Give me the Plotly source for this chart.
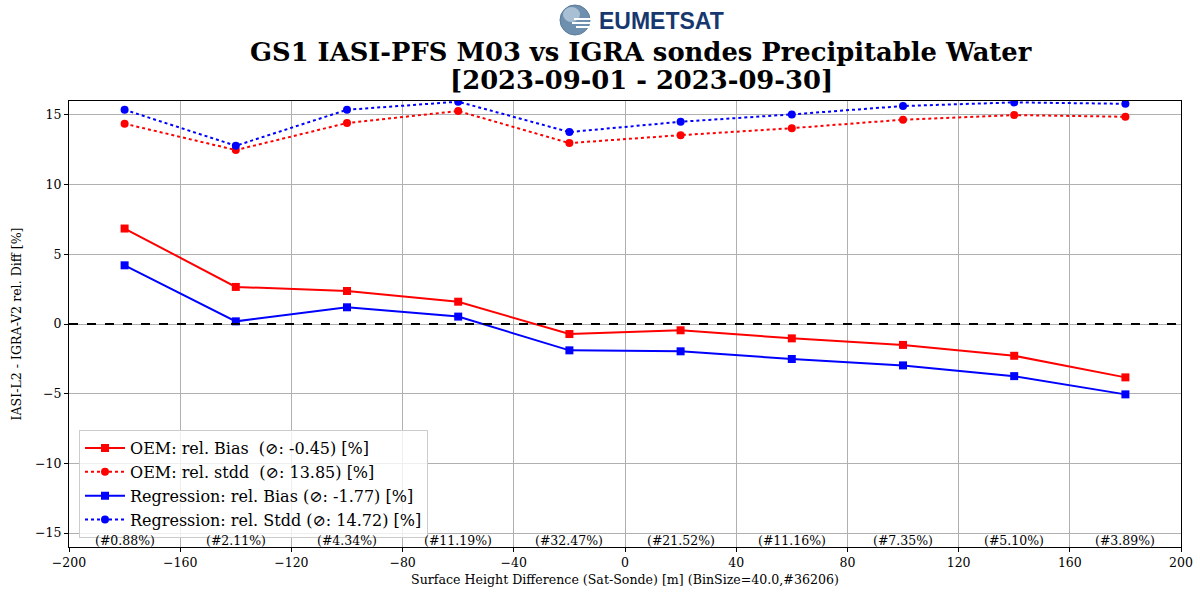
import plotly.graph_objects as go

# Bin centres of the surface height difference [m]
bin_centers = [-180, -140, -100, -60, -20, 20, 60, 100, 140, 180]

# Relative differences [%]
oem_bias = [6.85, 2.66, 2.37, 1.60, -0.72, -0.45, -1.03, -1.50, -2.28, -3.83]
oem_stdd = [14.37, 12.48, 14.42, 15.28, 12.98, 13.55, 14.05, 14.66, 14.99, 14.87]
reg_bias = [4.21, 0.19, 1.20, 0.53, -1.89, -1.96, -2.51, -2.97, -3.74, -5.05]
reg_stdd = [15.37, 12.79, 15.37, 15.95, 13.77, 14.51, 15.04, 15.64, 15.90, 15.80]

# Share of collocations per bin
bin_share = ["0.88", "2.11", "4.34", "11.19", "32.47", "21.52", "11.16", "7.35", "5.10", "3.89"]

x_ticks = [-200, -160, -120, -80, -40, 0, 40, 80, 120, 160, 200]
y_ticks = [-15, -10, -5, 0, 5, 10, 15]

SERIF = "DejaVu Serif"

fig = go.Figure()

fig.add_trace(go.Scatter(
    x=bin_centers, y=oem_bias, mode="lines+markers",
    name="OEM: rel. Bias  (\u2298: -0.45) [%]",
    line=dict(color="#ff0000", width=2, dash="solid"),
    marker=dict(symbol="square", size=8, color="#ff0000"),
))
fig.add_trace(go.Scatter(
    x=bin_centers, y=oem_stdd, mode="lines+markers",
    name="OEM: rel. stdd  (\u2298: 13.85) [%]",
    line=dict(color="#ff0000", width=2, dash="dot"),
    marker=dict(symbol="circle", size=8, color="#ff0000"),
))
fig.add_trace(go.Scatter(
    x=bin_centers, y=reg_bias, mode="lines+markers",
    name="Regression: rel. Bias (\u2298: -1.77) [%]",
    line=dict(color="#0000ff", width=2, dash="solid"),
    marker=dict(symbol="square", size=8, color="#0000ff"),
))
fig.add_trace(go.Scatter(
    x=bin_centers, y=reg_stdd, mode="lines+markers",
    name="Regression: rel. Stdd (\u2298: 14.72) [%]",
    line=dict(color="#0000ff", width=2, dash="dot"),
    marker=dict(symbol="circle", size=8, color="#0000ff"),
))

# Zero reference line
fig.add_shape(type="line", xref="paper", yref="y", x0=0, x1=1, y0=0, y1=0,
              line=dict(color="black", width=2, dash="dash"), layer="above")

annotations = []
# Bin population labels along the bottom
for xc, share in zip(bin_centers, bin_share):
    annotations.append(dict(
        x=xc, y=-15.5, xref="x", yref="y", text=f"(#{share}%)",
        showarrow=False, font=dict(family=SERIF, size=12.5, color="black"),
        xanchor="center", yanchor="middle",
    ))

# Title lines
annotations.append(dict(
    x=641, y=52, xref="paper", yref="paper",
    text="<b>GS1 IASI-PFS M03 vs IGRA sondes Precipitable Water</b>",
    showarrow=False, font=dict(family=SERIF, size=25.8, color="black"),
    xanchor="center", yanchor="middle",
))
annotations.append(dict(
    x=641, y=80, xref="paper", yref="paper",
    text="<b>[2023-09-01 - 2023-09-30]</b>",
    showarrow=False, font=dict(family=SERIF, size=25.8, color="black"),
    xanchor="center", yanchor="middle",
))
# Logo wordmark
annotations.append(dict(
    x=597, y=21, xref="paper", yref="paper",
    text="<b>EUMETSAT</b>", showarrow=False,
    font=dict(family="Liberation Sans", size=23, color="#17386f"),
    xanchor="left", yanchor="middle",
))

# Convert pixel positions to paper coordinates for the header items
W, H = 1200, 593
L, R, T, B = 69, 19, 101, 46
pw, ph = W - L - R, H - T - B
for a in annotations:
    if a["xref"] == "paper":
        a["x"] = (a["x"] - L) / pw
        a["y"] = (H - B - a["y"]) / ph

fig.update_layout(annotations=annotations)

# Globe of the logo
def px_x(v):
    return (v - L) / pw

def px_y(v):
    return (H - B - v) / ph

fig.add_shape(type="circle", xref="paper", yref="paper",
              x0=px_x(560), x1=px_x(590), y0=px_y(35), y1=px_y(5),
              fillcolor="#6f8fae", line=dict(color="#5a7a9a", width=1))
fig.add_shape(type="circle", xref="paper", yref="paper",
              x0=px_x(563), x1=px_x(580), y0=px_y(22), y1=px_y(7),
              fillcolor="#a9bfd3", line=dict(width=0))
for yy, x0 in [(19, 574), (23, 572), (27, 576)]:
    fig.add_shape(type="line", xref="paper", yref="paper",
                  x0=px_x(x0), x1=px_x(592), y0=px_y(yy), y1=px_y(yy),
                  line=dict(color="white", width=2))

fig.update_layout(
    width=W, height=H,
    margin=dict(l=L, r=R, t=T, b=B, autoexpand=False),
    paper_bgcolor="white", plot_bgcolor="white",
    font=dict(family=SERIF, size=12, color="black"),
    showlegend=True,
    legend=dict(
        x=0.009, y=0.262, xanchor="left", yanchor="top",
        bgcolor="rgba(255,255,255,0.8)", bordercolor="#cccccc", borderwidth=1,
        font=dict(family=SERIF, size=16, color="black"),
        itemwidth=40, tracegroupgap=0,
    ),
    xaxis=dict(
        range=[-200, 200], tickvals=x_ticks,
        ticktext=[str(v).replace("-", "\u2212") for v in x_ticks],
        showgrid=True, gridcolor="#b0b0b0", gridwidth=1,
        zeroline=False, showline=True, linecolor="black", linewidth=1,
        mirror=True, ticks="outside", ticklen=4, tickcolor="black",
        tickfont=dict(family=SERIF, size=12.5), automargin=False,
        title=dict(text="Surface Height Difference (Sat-Sonde) [m] (BinSize=40.0,#36206)",
                   font=dict(family=SERIF, size=12.6), standoff=6),
    ),
    yaxis=dict(
        range=[-16, 16], tickvals=y_ticks,
        ticktext=[str(v).replace("-", "\u2212") for v in y_ticks],
        showgrid=True, gridcolor="#b0b0b0", gridwidth=1,
        zeroline=False, showline=True, linecolor="black", linewidth=1,
        mirror=True, ticks="outside", ticklen=4, tickcolor="black",
        tickfont=dict(family=SERIF, size=12.5), automargin=False,
        title=dict(text="IASI-L2 - IGRA-V2 rel. Diff [%]",
                   font=dict(family=SERIF, size=12.6), standoff=10),
    ),
)

fig.write_html("out.html")
